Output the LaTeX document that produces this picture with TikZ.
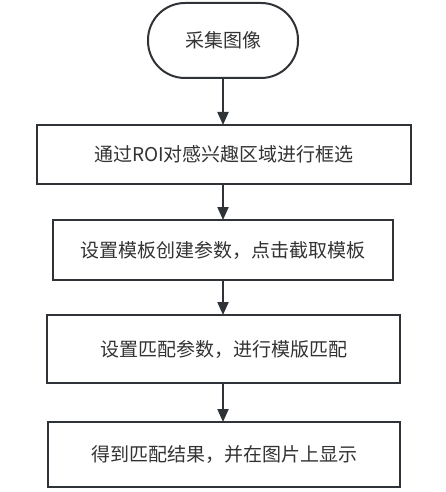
\documentclass[tikz,border=0pt]{standalone}
\usepackage{fontspec}
\setmainfont{Noto Sans CJK SC}
\usetikzlibrary{arrows.meta}
\definecolor{ln}{HTML}{2F3337}
\definecolor{tx}{HTML}{333333}
\tikzset{
  stepbox/.style={draw=ln, line width=2pt, fill=white, inner sep=0pt, outer sep=0pt,
    text=tx, font=\fontsize{19}{22}\selectfont},
  termbox/.style={stepbox, rounded corners=37pt},
  arr/.style={draw=ln, line width=2pt, -{Triangle[length=13pt,width=11pt]}}
}
\begin{document}
\begin{tikzpicture}[x=1pt,y=-1pt]
\useasboundingbox (0,0) rectangle (445,492);
\node[termbox, minimum width=150pt, minimum height=75pt] (s) at (223,40.5) {采集图像};
\node[stepbox, minimum width=374pt, minimum height=59pt] (b1) at (224,154.5) {通过ROI对感兴趣区域进行框选};
\node[stepbox, minimum width=340pt, minimum height=60pt] (b2) at (223,250) {设置模板创建参数，点击截取模板};
\node[stepbox, minimum width=353pt, minimum height=68pt] (b3) at (223.5,349) {设置匹配参数，进行模版匹配};
\node[stepbox, minimum width=352pt, minimum height=65pt] (b4) at (224,454.5) {得到匹配结果，并在图片上显示};
\draw[arr] (s.south) -- (s.south |- b1.north);
\draw[arr] (s.south |- b1.south) -- (s.south |- b2.north);
\draw[arr] (s.south |- b2.south) -- (s.south |- b3.north);
\draw[arr] (s.south |- b3.south) -- (s.south |- b4.north);
\end{tikzpicture}
\end{document}
